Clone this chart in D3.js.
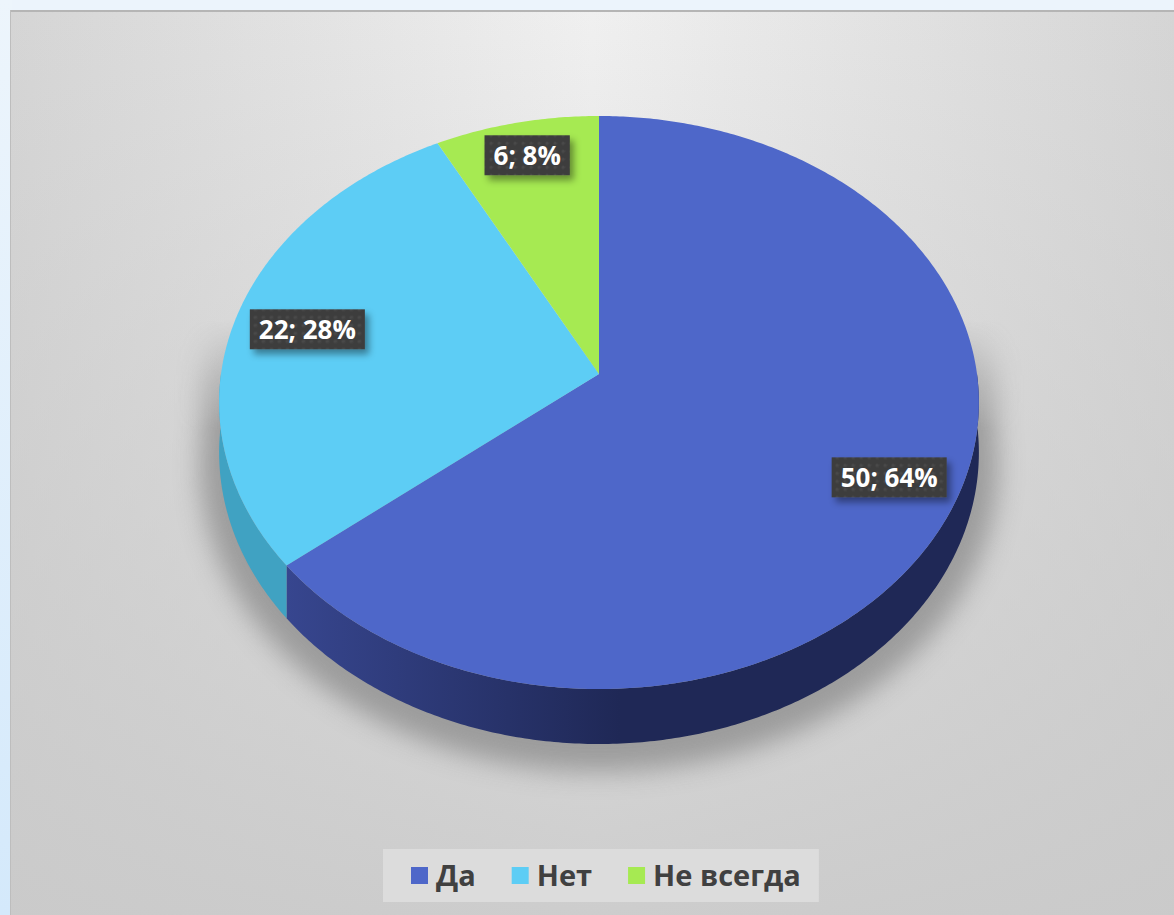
<!DOCTYPE html>
<html>
<head>
<meta charset="utf-8">
<script src="https://cdn.jsdelivr.net/npm/d3@7"></script>
<style>
  body { margin: 0; background: #ecf4fc; }
  svg { display: block; }
</style>
</head>
<body>
<div id="chart"></div>
<script>
// Data
const categories = ["Да", "Нет", "Не всегда"];
const values = [50, 22, 6];
const percents = [64, 28, 8];
const topColors = ["#4e67c9", "#5dcdf5", "#a6ea52"];
const wallColors = ["url(#wall-da)", "#40a2c2", "#7fb83c"];

const W = 1174, H = 915;

// 3D pie geometry (perspective tilted disc)
const CX = 599, CY = 374;
const RX = 378, RY = 283.7, B = -0.0995, DEPTH = 49.5;

function proj(a, r) {
    const u = r * Math.sin(a), v = -r * Math.cos(a);
    const k = 1 / (1 + B * v);
    return [CX + RX * u * k, CY + RY * v * k, k];
}

function arcPoints(a0, a1, r) {
    const n = Math.max(2, Math.ceil((a1 - a0) / 0.01));
    return d3.range(n + 1).map(i => proj(a0 + (a1 - a0) * i / n, r));
}

const svg = d3.select("#chart")
    .append("svg")
    .attr("width", W)
    .attr("height", H);

const defs = svg.append("defs");

// page strip on the left
const side = defs.append("linearGradient").attr("id", "page-left")
    .attr("x1", 0).attr("y1", 0).attr("x2", 0).attr("y2", 1);
side.append("stop").attr("offset", "0%").attr("stop-color", "#edf5fc");
side.append("stop").attr("offset", "100%").attr("stop-color", "#d4e9fb");

// chart background gradients
const bgH = defs.append("linearGradient").attr("id", "bg-h")
    .attr("x1", 0).attr("y1", 0).attr("x2", 1).attr("y2", 0);
bgH.append("stop").attr("offset", "0%").attr("stop-color", "#d5d5d5");
bgH.append("stop").attr("offset", "50%").attr("stop-color", "#f0f0f0");
bgH.append("stop").attr("offset", "100%").attr("stop-color", "#d5d5d5");

const bgV = defs.append("linearGradient").attr("id", "bg-v")
    .attr("x1", 0).attr("y1", 0).attr("x2", 0).attr("y2", 1);
bgV.append("stop").attr("offset", "0%").attr("stop-color", "#c9c9c9").attr("stop-opacity", 0);
bgV.append("stop").attr("offset", "100%").attr("stop-color", "#c9c9c9").attr("stop-opacity", 0.9);

// wall gradient for the big slice
const wg = defs.append("linearGradient").attr("id", "wall-da")
    .attr("gradientUnits", "userSpaceOnUse")
    .attr("x1", 285).attr("y1", 0).attr("x2", 620).attr("y2", 0);
wg.append("stop").attr("offset", "0%").attr("stop-color", "#37468f");
wg.append("stop").attr("offset", "100%").attr("stop-color", "#1f2856");

// shadow blur and mask
defs.append("filter").attr("id", "blur")
    .attr("x", "-20%").attr("y", "-20%").attr("width", "140%").attr("height", "140%")
    .append("feGaussianBlur").attr("stdDeviation", 13);

const mg = defs.append("linearGradient").attr("id", "shadow-fade")
    .attr("gradientUnits", "userSpaceOnUse")
    .attr("x1", 0).attr("y1", 320).attr("x2", 0).attr("y2", 430);
mg.append("stop").attr("offset", "0%").attr("stop-color", "#fff").attr("stop-opacity", 0);
mg.append("stop").attr("offset", "100%").attr("stop-color", "#fff").attr("stop-opacity", 1);
defs.append("mask").attr("id", "shadow-mask")
    .append("rect").attr("x", 0).attr("y", 0).attr("width", W).attr("height", H)
    .attr("fill", "url(#shadow-fade)");

// label box texture + shadow
const pat = defs.append("pattern").attr("id", "dots")
    .attr("patternUnits", "userSpaceOnUse").attr("width", 8).attr("height", 8);
pat.append("rect").attr("width", 8).attr("height", 8).attr("fill", "#3e3e3e");
pat.append("circle").attr("cx", 4).attr("cy", 4).attr("r", 1.6).attr("fill", "#4a4a4a");

const ds = defs.append("filter").attr("id", "label-shadow")
    .attr("x", "-20%").attr("y", "-30%").attr("width", "150%").attr("height", "180%");
ds.append("feDropShadow").attr("dx", 4).attr("dy", 5).attr("stdDeviation", 3.5)
    .attr("flood-color", "#000").attr("flood-opacity", 0.4);

// Page and chart area
svg.append("rect").attr("x", 0).attr("y", 0).attr("width", 12).attr("height", H)
    .attr("fill", "url(#page-left)");
svg.append("rect").attr("x", 10).attr("y", 10).attr("width", W - 10).attr("height", H - 10)
    .attr("fill", "url(#bg-h)");
svg.append("rect").attr("x", 10).attr("y", 10).attr("width", W - 10).attr("height", H - 10)
    .attr("fill", "url(#bg-v)");
svg.append("line").attr("x1", 10).attr("y1", 11).attr("x2", W).attr("y2", 11)
    .attr("stroke", "#b5b5b5").attr("stroke-width", 2);
svg.append("line").attr("x1", 10.5).attr("y1", 10).attr("x2", 10.5).attr("y2", H)
    .attr("stroke", "#bdbdbd").attr("stroke-width", 1);

const line = d3.line();

// Shadow under the pie
const front = arcPoints(Math.PI / 2, 3 * Math.PI / 2, 1.05).map(p => [p[0], p[1] + DEPTH * p[2] + 10]);
const back = arcPoints(-Math.PI / 2, Math.PI / 2, 1.05).map(p => [p[0], p[1]]);
svg.append("g").attr("mask", "url(#shadow-mask)")
    .append("path")
    .attr("d", line(back.concat(front)) + "Z")
    .attr("fill", "#858585")
    .attr("opacity", 0.7)
    .attr("filter", "url(#blur)");

// Slices
const slices = d3.pie().sort(null).value(d => d)(values);

// Outer walls (front half only)
svg.append("g").selectAll("path")
    .data(slices)
    .join("path")
    .attr("d", d => {
        const a0 = Math.max(d.startAngle, Math.PI / 2);
        const a1 = Math.min(d.endAngle, 3 * Math.PI / 2);
        if (a0 >= a1) return null;
        const topPts = arcPoints(a0, a1, 1);
        const botPts = topPts.map(p => [p[0], p[1] + DEPTH * p[2]]).reverse();
        return line(topPts.map(p => [p[0], p[1]]).concat(botPts)) + "Z";
    })
    .attr("fill", (d, i) => wallColors[i]);

// Top faces
svg.append("g").selectAll("path")
    .data(slices)
    .join("path")
    .attr("d", d => {
        const pts = [[CX, CY]].concat(arcPoints(d.startAngle, d.endAngle, 1).map(p => [p[0], p[1]]));
        return line(pts) + "Z";
    })
    .attr("fill", (d, i) => topColors[i]);

// Data labels
const labelR = [0.82, 0.8, 0.86];
const labels = svg.append("g")
    .style("font-family", "'Open Sans', sans-serif")
    .style("font-weight", "bold")
    .style("font-size", "26px");

slices.forEach((d, i) => {
    const mid = (d.startAngle + d.endAngle) / 2;
    const p = proj(mid, labelR[i]);
    const g = labels.append("g").attr("transform", `translate(${p[0]},${p[1]})`);
    const box = g.append("rect").attr("fill", "url(#dots)").attr("filter", "url(#label-shadow)");
    const t = g.append("text")
        .attr("text-anchor", "middle")
        .attr("dy", "0.36em")
        .attr("fill", "#ffffff")
        .text(`${values[i]}; ${percents[i]}%`);
    const w = t.node().getComputedTextLength() + 18;
    box.attr("x", -w / 2).attr("y", -20).attr("width", w).attr("height", 40);
});

// Legend
const legend = svg.append("g")
    .style("font-family", "'Open Sans', sans-serif")
    .style("font-weight", "bold")
    .style("font-size", "29px");

const legendBox = legend.append("rect")
    .attr("y", 849).attr("height", 53)
    .attr("fill", "#dcdcdc");

const gap = 36;
let lx = 0;
const items = categories.map((c, i) => {
    const item = legend.append("g");
    item.append("rect")
        .attr("x", 0).attr("y", 867).attr("width", 17).attr("height", 17)
        .attr("fill", topColors[i]);
    const tx = item.append("text")
        .attr("x", 25).attr("y", 886)
        .attr("fill", "#404040")
        .text(c);
    const w = 25 + tx.node().getComputedTextLength();
    const pos = lx;
    lx += w + gap;
    return { item, pos };
});
const totalW = lx - gap;
const lStart = 411;
items.forEach(d => d.item.attr("transform", `translate(${lStart + d.pos},0)`));
legendBox.attr("x", lStart - 28).attr("width", totalW + 46);
</script>
</body>
</html>
